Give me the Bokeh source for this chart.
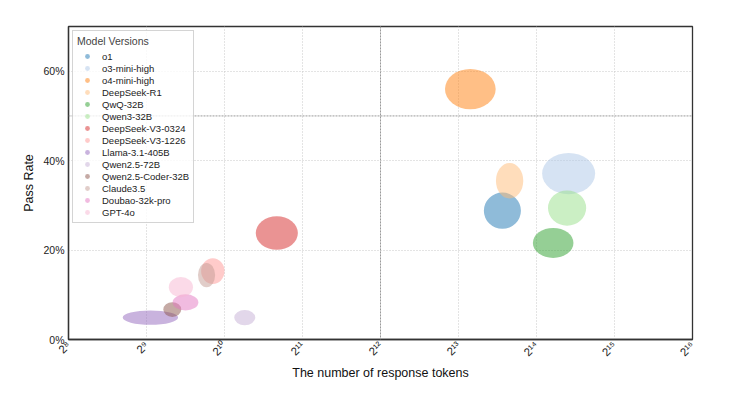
import numpy as np
from bokeh.plotting import figure
from bokeh.models import (ColumnDataSource, FixedTicker, CustomJSTickFormatter,
                          NumeralTickFormatter, Legend, LegendItem, Span, Range1d)
from bokeh.embed import file_html
from bokeh.resources import INLINE

models = ["o1", "o3-mini-high", "o4-mini-high", "DeepSeek-R1", "QwQ-32B", "Qwen3-32B",
          "DeepSeek-V3-0324", "DeepSeek-V3-1226", "Llama-3.1-405B", "Qwen2.5-72B",
          "Qwen2.5-Coder-32B", "Claude3.5", "Doubao-32k-pro", "GPT-4o"]
tokens = [12100, 21800, 9100, 12900, 19000, 21500,
          1630, 923, 530, 1226, 644, 873, 724, 695]
pass_rate = [0.288, 0.371, 0.560, 0.355, 0.216, 0.294,
             0.238, 0.153, 0.049, 0.049, 0.067, 0.144, 0.083, 0.117]
# spread of each model (width in log2 tokens, height in pass rate)
spread_tokens = [0.475, 0.68, 0.65, 0.35, 0.52, 0.49,
                 0.54, 0.30, 0.71, 0.27, 0.23, 0.22, 0.33, 0.31]
spread_rate = [0.081, 0.092, 0.090, 0.079, 0.067, 0.079,
               0.075, 0.058, 0.032, 0.034, 0.033, 0.054, 0.036, 0.045]
colors = ["#1f77b4", "#aec7e8", "#ff7f0e", "#ffbb78", "#2ca02c", "#98df8a",
          "#d62728", "#ff9896", "#9467bd", "#c5b0d5", "#8c564b", "#c49c94",
          "#e377c2", "#f7b6d2"]
x_exponents = [8, 9, 10, 11, 12, 13, 14, 15, 16]
y_ticks = [0, 0.2, 0.4, 0.6]

FONT = "Liberation Sans"

p = figure(width=723, height=383, output_backend="svg", toolbar_location=None,
           x_range=Range1d(8, 16), y_range=Range1d(0, 0.70),
           min_border_left=68, min_border_right=31, min_border_top=26,
           min_border_bottom=44)

p.background_fill_color = "white"
p.border_fill_color = "white"
p.outline_line_color = "#333333"
p.outline_line_width = 1.3

src = ColumnDataSource(dict(x=np.log2(tokens), y=pass_rate, w=spread_tokens,
                            h=spread_rate, c=colors, name=models))
p.ellipse(x="x", y="y", width="w", height="h", fill_color="c", fill_alpha=0.5,
          line_color=None, source=src)

# reference lines
p.add_layout(Span(location=0.5, dimension="width", line_color="#9a9a9a",
                  line_dash="2 1", line_width=1))
p.add_layout(Span(location=12, dimension="height", line_color="#9a9a9a",
                  line_dash="2 1", line_width=1))

# axes
p.xaxis.ticker = FixedTicker(ticks=x_exponents)
p.xaxis.formatter = CustomJSTickFormatter(code="""
const sup = {'0':'\u2070','1':'\u00b9','2':'\u00b2','3':'\u00b3','4':'\u2074','5':'\u2075','6':'\u2076','7':'\u2077','8':'\u2078','9':'\u2079'};
return '2' + String(Math.round(tick)).split('').map(d => sup[d]).join('');
""")
p.xaxis.major_label_orientation = np.pi / 4
p.yaxis.ticker = FixedTicker(ticks=y_ticks)
p.yaxis.formatter = NumeralTickFormatter(format="0%")

for ax in (p.xaxis[0], p.yaxis[0]):
    ax.major_tick_line_color = None
    ax.minor_tick_line_color = None
    ax.major_tick_out = 0
    ax.major_tick_in = 0
    ax.axis_line_color = "#333333"
    ax.axis_line_width = 1.3
    ax.major_label_text_font = FONT
    ax.major_label_text_font_size = "10.5px"
    ax.major_label_text_color = "#222222"
    ax.axis_label_text_font = FONT
    ax.axis_label_text_font_size = "12.5px"
    ax.axis_label_text_font_style = "normal"
    ax.axis_label_text_color = "#111111"
    ax.major_label_standoff = 4

p.xaxis.major_label_text_font_size = "11.5px"
p.xaxis.axis_label = "The number of response tokens"
p.yaxis.axis_label = "Pass Rate"
p.xaxis.axis_label_standoff = 0
p.yaxis.axis_label_standoff = 4

p.xgrid.ticker = FixedTicker(ticks=x_exponents)
p.ygrid.ticker = FixedTicker(ticks=[0.2, 0.4, 0.6])
for g in (p.xgrid[0], p.ygrid[0]):
    g.grid_line_color = "#c8c8c8"
    g.grid_line_dash = "1 2"
    g.grid_line_width = 1

# legend with circle markers (legend-only points placed outside the visible range)
items = []
for name, c in zip(models, colors):
    r = p.scatter(x=[-100], y=[-100], marker="circle", size=8, fill_color=c,
                  fill_alpha=0.5, line_color=None)
    items.append(LegendItem(label=name, renderers=[r]))

legend = Legend(items=items, location="top_left", title="Model Versions",
                title_text_font=FONT, title_text_font_size="10.5px",
                title_text_font_style="normal", title_standoff=3,
                label_text_font=FONT, label_text_font_size="9.5px",
                label_text_color="#222222",
                label_height=12, glyph_height=12, glyph_width=20, spacing=0,
                label_standoff=5, padding=4, margin=4,
                border_line_color="#aaaaaa", border_line_width=1,
                background_fill_color="white", background_fill_alpha=0.8)
p.add_layout(legend)

open("out.html", "w").write(file_html(p, INLINE))
